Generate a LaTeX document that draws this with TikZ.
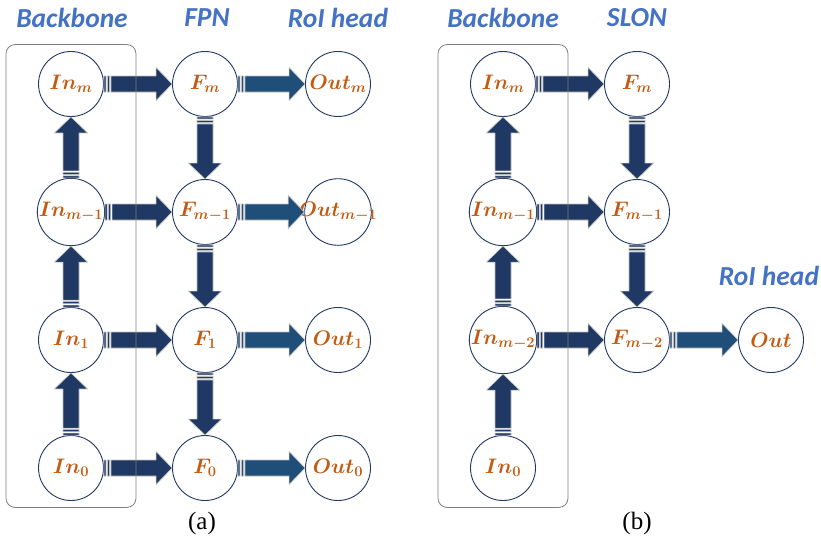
\RequirePackage{fix-cm}
\documentclass[tikz,border=0pt]{standalone}
\usepackage{fontspec}
\usepackage{amsmath,bm}
\usepackage{xcolor}
\usepackage{tikz}
\usetikzlibrary{calc,fit,positioning}
\newfontfamily\headfont{Carlito}
\newfontfamily\capfont{Liberation Serif}

\definecolor{navy}{HTML}{203864}
\definecolor{steel}{HTML}{1F4E79}
\definecolor{rust}{HTML}{C55A11}
\definecolor{headblue}{HTML}{4472C4}

% point on a block arrow: distance from the tail, offset, side
\newcommand{\tailpt}[3]{($(\tikztostart)!#1!(\tikztotarget)!#2!#3:(\tikztotarget)$)}
% point at the base of the head
\newcommand{\headpt}[2]{($(\tikztotarget)!16pt!(\tikztostart)!#1!#2:(\tikztotarget)$)}

\begin{document}
\begin{tikzpicture}[x=1pt,y=-1pt,node distance=128pt,
  main node/.style={circle,draw=navy,line width=0.9pt,fill=white,minimum size=65pt,inner sep=0pt,text=rust,font=\fontsize{21}{21}\selectfont\boldmath},
  wide/.style={inner sep=-6pt},
  head/.style={text=headblue,font=\headfont\fontsize{27.5}{27.5}\selectfont\bfseries\itshape},
  bone/.style={draw=gray,line width=0.8pt,rounded corners=9pt,inner xsep=32pt,inner ysep=6.5pt},
  bigarrow/.style={fill=#1,draw=gray!50,line width=0.6pt,to path={
      \tailpt{0pt}{8pt}{90} -- \tailpt{2pt}{8pt}{90} -- \tailpt{2pt}{8pt}{-90} -- \tailpt{0pt}{8pt}{-90} -- cycle
      \tailpt{3.5pt}{8pt}{90} -- \tailpt{5.5pt}{8pt}{90} -- \tailpt{5.5pt}{8pt}{-90} -- \tailpt{3.5pt}{8pt}{-90} -- cycle
      \tailpt{7pt}{8pt}{90} -- \headpt{8pt}{90} -- \headpt{16.5pt}{90} -- (\tikztotarget)
      -- \headpt{16.5pt}{-90} -- \headpt{8pt}{-90} -- \tailpt{7pt}{8pt}{-90} -- cycle}},
  bigarrow/.default=navy]
\useasboundingbox (0,0) rectangle (821,541);

% (a) backbone, FPN, RoI head
\node[main node] (ainm) at (71,84) {$In_m$};
\node[main node] (ainm1) [below of=ainm] {$In_{m-1}$};
\node[main node] (ain1) [below of=ainm1] {$In_1$};
\node[main node] (ain0) [below of=ain1] {$In_0$};
\node[main node] (afm) [right of=ainm, xshift=6pt] {$F_m$};
\node[main node] (afm1) [below of=afm] {$F_{m-1}$};
\node[main node] (af1) [below of=afm1] {$F_1$};
\node[main node] (af0) [below of=af1] {$F_0$};
\node[main node] (aoutm) [right of=afm, xshift=5pt] {$Out_m$};
\node[main node, wide] (aoutm1) [below of=aoutm] {$Out_{m-1}$};
\node[main node] (aout1) [below of=aoutm1] {$Out_1$};
\node[main node] (aout0) [below of=aout1] {$Out_0$};

\draw[bigarrow] (ain0.north) to (ain1.south);
\draw[bigarrow] (ain1.north) to (ainm1.south);
\draw[bigarrow] (ainm1.north) to (ainm.south);
\draw[bigarrow] (ainm.east) to (afm.west);
\draw[bigarrow] (ainm1.east) to (afm1.west);
\draw[bigarrow] (ain1.east) to (af1.west);
\draw[bigarrow] (ain0.east) to (af0.west);
\draw[bigarrow] (afm.south) to (afm1.north);
\draw[bigarrow] (afm1.south) to (af1.north);
\draw[bigarrow] (af1.south) to (af0.north);
\draw[bigarrow=steel] (afm.east) to (aoutm.west);
\draw[bigarrow=steel] (afm1.east) to (aoutm1.west);
\draw[bigarrow=steel] (af1.east) to (aout1.west);
\draw[bigarrow=steel] (af0.east) to (aout0.west);

\node[bone, fit=(ainm)(ain0)] (abone) {};
\node[head] (abb) at (72,18) {Backbone};
\node[head] (afpn) at (207,18) {FPN};
\node[head] (aroi) at (338,18) {RoI head};
\node[font=\capfont\fontsize{25}{25}\selectfont] (acap) at (202,523) {(a)};

% (b) backbone, SLON, RoI head
\node[main node] (binm) at (503,84) {$In_m$};
\node[main node] (binm1) [below of=binm] {$In_{m-1}$};
\node[main node] (binm2) [below of=binm1] {$In_{m-2}$};
\node[main node] (bin0) [below of=binm2] {$In_0$};
\node[main node] (bfm) [right of=binm, xshift=6pt] {$F_m$};
\node[main node] (bfm1) [below of=bfm] {$F_{m-1}$};
\node[main node] (bfm2) [below of=bfm1] {$F_{m-2}$};
\node[main node] (bout) [right of=bfm2, xshift=6pt] {$Out$};

\draw[bigarrow] (bin0.north) to (binm2.south);
\draw[bigarrow] (binm2.north) to (binm1.south);
\draw[bigarrow] (binm1.north) to (binm.south);
\draw[bigarrow] (binm.east) to (bfm.west);
\draw[bigarrow] (binm1.east) to (bfm1.west);
\draw[bigarrow] (binm2.east) to (bfm2.west);
\draw[bigarrow] (bfm.south) to (bfm1.north);
\draw[bigarrow] (bfm1.south) to (bfm2.north);
\draw[bigarrow=steel] (bfm2.east) to (bout.west);

\node[bone, fit=(binm)(bin0)] (bbone) {};
\node[head] (bbb) at (503,18) {Backbone};
\node[head] (bslon) at (637,18) {SLON};
\node[head] (broi) at (769,276) {RoI head};
\node[font=\capfont\fontsize{25}{25}\selectfont] (bcap) at (637,523) {(b)};
\end{tikzpicture}
\end{document}
